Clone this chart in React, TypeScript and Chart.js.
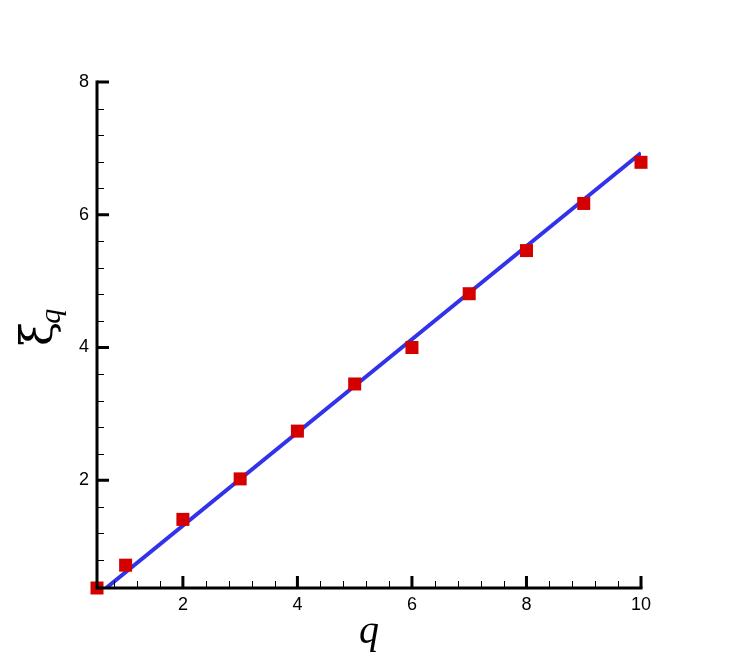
import { useEffect, useRef } from 'react';
import { Chart, registerables } from 'chart.js';

Chart.register(...registerables);

// measured points (q, xi_q)
const qValues = [0.5, 1, 2, 3, 4, 5, 6, 7, 8, 9, 10];
const xiValues = [0.376, 0.72, 1.41, 2.02, 2.74, 3.45, 4.0, 4.81, 5.46, 6.17, 6.79];

// straight fit line, ends only
const fitQ = [0.66, 10];
const fitXi = [0.376, 6.93];

const xMajorTicks = [2, 4, 6, 8, 10];
const xMinorTicks = [0.8, 1.2, 1.6, 2.4, 2.8, 3.2, 3.6, 4.4, 4.8, 5.2, 5.6, 6.4, 6.8, 7.2, 7.6, 8.4, 8.8, 9.2, 9.6];
const yMajorTicks = [2, 4, 6, 8];
const yMinorTicks = [0.8, 1.2, 1.6, 2.4, 2.8, 3.2, 3.6, 4.4, 4.8, 5.2, 5.6, 6.4, 6.8, 7.2, 7.6];

const X_MIN = 0.5;
const X_MAX = 10;
const Y_MIN = 0.376;
const Y_MAX = 8;

const tickFont = { family: '"Liberation Sans", Arial, sans-serif', size: 18 };

// Tecplot-ish axes: only left + bottom lines, ticks pointing inward, plus the titles
const axesPlugin = {
  id: 'inwardAxes',
  afterDatasetsDraw(chart: any) {
    const { ctx, chartArea: a, scales } = chart;
    const x = scales.x;
    const y = scales.y;
    ctx.save();
    ctx.strokeStyle = '#000';

    ctx.lineWidth = 1;
    ctx.beginPath();
    xMinorTicks.forEach((v) => {
      const px = Math.round(x.getPixelForValue(v)) + 0.5;
      ctx.moveTo(px, a.bottom);
      ctx.lineTo(px, a.bottom - 7);
    });
    yMinorTicks.forEach((v) => {
      const py = Math.round(y.getPixelForValue(v)) + 0.5;
      ctx.moveTo(a.left, py);
      ctx.lineTo(a.left + 7, py);
    });
    ctx.stroke();

    ctx.lineWidth = 3;
    ctx.beginPath();
    xMajorTicks.forEach((v) => {
      const px = x.getPixelForValue(v);
      ctx.moveTo(px, a.bottom);
      ctx.lineTo(px, a.bottom - 12);
    });
    yMajorTicks.forEach((v) => {
      const py = y.getPixelForValue(v);
      ctx.moveTo(a.left, py);
      ctx.lineTo(a.left + 12, py);
    });
    ctx.stroke();

    ctx.lineCap = 'square';
    ctx.beginPath();
    ctx.moveTo(a.left, a.top);
    ctx.lineTo(a.left, a.bottom);
    ctx.lineTo(a.right, a.bottom);
    ctx.stroke();

    // x title
    ctx.fillStyle = '#000';
    ctx.font = 'italic 40px "Liberation Serif", "Times New Roman", serif';
    ctx.textAlign = 'center';
    ctx.textBaseline = 'alphabetic';
    ctx.fillText('q', (a.left + a.right) / 2, 643);

    // y title, rotated, with subscript
    ctx.translate(52, 346);
    ctx.rotate(-Math.PI / 2);
    ctx.textAlign = 'left';
    ctx.font = '44px "DejaVu Serif", "Liberation Serif", serif';
    ctx.fillText('ξ', 0, 0);
    const w = ctx.measureText('ξ').width;
    ctx.font = 'italic 30px "Liberation Serif", "Times New Roman", serif';
    ctx.fillText('q', w - 2, 8);

    ctx.restore();
  },
};

export default function App() {
  const canvasRef = useRef<HTMLCanvasElement>(null);
  const chartRef = useRef<Chart | null>(null);

  useEffect(() => {
    document.body.style.margin = '0';
    if (!canvasRef.current) return;
    const ctx = canvasRef.current.getContext('2d');
    if (!ctx) return;

    if (chartRef.current) chartRef.current.destroy();

    chartRef.current = new Chart(ctx, {
      type: 'scatter',
      data: {
        datasets: [
          {
            type: 'scatter',
            label: 'data',
            data: qValues.map((q, i) => ({ x: q, y: xiValues[i] })),
            pointStyle: 'rect',
            pointRadius: 9.2,
            pointHoverRadius: 9.2,
            backgroundColor: '#d40000',
            borderColor: '#d40000',
            borderWidth: 0,
            clip: false,
            order: 0,
          },
          {
            type: 'line',
            label: 'fit',
            data: fitQ.map((q, i) => ({ x: q, y: fitXi[i] })),
            borderColor: '#3232ea',
            borderWidth: 4,
            pointRadius: 0,
            fill: false,
            tension: 0,
            order: 1,
          },
        ],
      } as any,
      options: {
        responsive: false,
        animation: false,
        events: [],
        layout: { padding: { top: 82, right: 90, left: 0, bottom: 0 } },
        plugins: {
          legend: { display: false },
          tooltip: { enabled: false },
        },
        scales: {
          x: {
            type: 'linear',
            min: X_MIN,
            max: X_MAX,
            grid: { display: false, drawTicks: false },
            border: { display: false },
            afterBuildTicks: (s: any) => {
              s.ticks = xMajorTicks.map((v) => ({ value: v }));
            },
            afterFit: (s: any) => {
              s.height = 77;
            },
            ticks: {
              padding: 6,
              autoSkip: false,
              maxRotation: 0,
              color: '#000',
              font: tickFont,
              callback: (v: any) => String(v),
            },
          },
          y: {
            type: 'linear',
            min: Y_MIN,
            max: Y_MAX,
            grid: { display: false, drawTicks: false },
            border: { display: false },
            afterBuildTicks: (s: any) => {
              s.ticks = yMajorTicks.map((v) => ({ value: v }));
            },
            afterFit: (s: any) => {
              s.width = 97;
            },
            ticks: {
              padding: 8,
              autoSkip: false,
              color: '#000',
              font: tickFont,
              callback: (v: any) => String(v),
            },
          },
        },
      },
      plugins: [axesPlugin],
    });

    return () => {
      if (chartRef.current) chartRef.current.destroy();
      chartRef.current = null;
    };
  }, []);

  return (
    <div style={{ width: 731, height: 665, background: '#fff' }}>
      <canvas ref={canvasRef} width={731} height={665}></canvas>
    </div>
  );
}
